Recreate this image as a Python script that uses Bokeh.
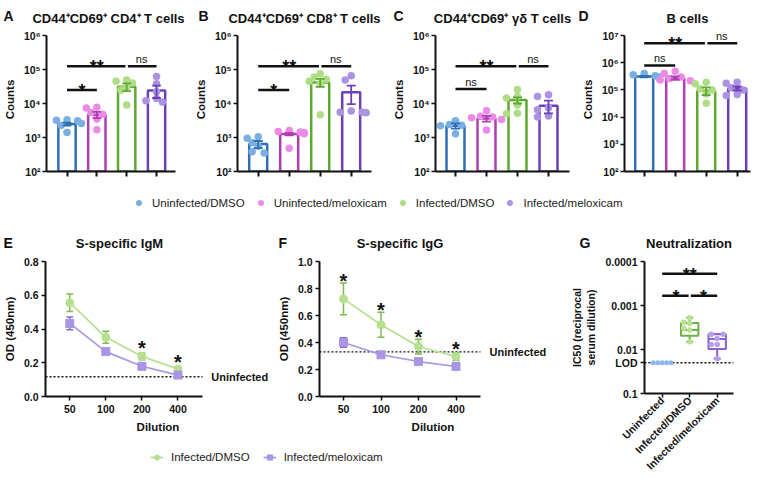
import math
from bokeh.plotting import figure
from bokeh.models import Range1d, FixedTicker, Legend, LegendItem, NumeralTickFormatter
from bokeh.layouts import row, column
from bokeh.embed import file_html
from bokeh.resources import INLINE
from bokeh.core.properties import value

FONT = "Liberation Sans"
INK = "#111111"

# ---------------- data ----------------
groups = ["Uninfected/DMSO", "Uninfected/meloxicam", "Infected/DMSO", "Infected/meloxicam"]

cd4_points = [[3300, 3200, 3100, 2600, 2300, 1400],
              [7700, 7400, 5400, 4800, 3500, 1700],
              [49000, 45000, 40000, 30000, 25000, 9000],
              [62000, 38000, 22000, 14000, 12000, 11000]]
cd4_mean = [2500, 4700, 31000, 24000]
cd4_sem = [250, 1000, 8000, 9500]

cd8_points = [[1050, 950, 700, 550, 380, 350],
              [1600, 1500, 1450, 1400, 1300, 480],
              [75000, 60000, 52000, 45000, 38000, 4700],
              [66000, 49000, 6000, 5500, 5500, 5300]]
cd8_mean = [640, 1260, 41700, 21600]
cd8_sem = [150, 100, 11000, 12000]

gd_points = [[3100, 2400, 2300, 2200, 1300],
             [6100, 4200, 4000, 3800, 3400, 1650],
             [26000, 16000, 14500, 9000, 5200, 5000],
             [18000, 16000, 7500, 6500, 4300, 4000]]
gd_mean = [2210, 3620, 12600, 8600]
gd_sem = [380, 700, 2600, 3500]

b_points = [[400000, 360000, 330000, 300000, 280000, 270000],
            [480000, 400000, 300000, 260000, 230000, 215000],
            [190000, 170000, 110000, 100000, 70000, 32000],
            [190000, 175000, 120000, 100000, 68000, 62000]]
b_mean = [309000, 276000, 93800, 115000]
b_sem = [20000, 40000, 30000, 20000]

sig_cd4 = ["**", "ns", "*"]
sig_cd8 = ["**", "ns", "*"]
sig_gd = ["**", "ns", "ns"]
sig_b = ["**", "ns", "ns"]

dilution = ["50", "100", "200", "400"]
igm_dmso = [0.556, 0.351, 0.238, 0.163]
igm_dmso_sem = [0.052, 0.035, 0.020, 0.006]
igm_melox = [0.433, 0.266, 0.179, 0.127]
igm_melox_sem = [0.038, 0.015, 0.008, 0.005]
igm_uninfected = 0.117
igm_star_at = ["200", "400"]
igm_star_y = [0.351, 0.272]

igg_dmso = [0.723, 0.531, 0.370, 0.296]
igg_dmso_sem = [0.117, 0.093, 0.055, 0.030]
igg_melox = [0.400, 0.309, 0.259, 0.222]
igg_melox_sem = [0.035, 0.010, 0.010, 0.010]
igg_uninfected = 0.331
igg_star_at = ["50", "100", "200", "400"]
igg_star_y = [0.94, 0.72, 0.52, 0.437]

g_groups = ["Uninfected", "Infected/DMSO", "Infected/meloxicam"]
lod = 0.02
g_uninf = [0.02, 0.02, 0.02, 0.02, 0.02]
g_dmso = [0.0019, 0.0024, 0.0026, 0.0033, 0.0036, 0.0067]
g_melox = [0.0045, 0.0045, 0.0056, 0.0077, 0.0077, 0.0163]
g_dmso_box = [0.0019, 0.0025, 0.0036, 0.0049, 0.0067]   # min, q1, median, q3, max
g_melox_box = [0.0045, 0.0045, 0.0058, 0.0097, 0.0163]
g_sig = ["**", "*", "*"]

titles_top = ["CD44\u207aCD69\u207a CD4\u207a T cells", "CD44\u207aCD69\u207a CD8\u207a T cells",
              "CD44\u207aCD69\u207a \u03b3\u03b4 T cells", "B cells"]
titles_bottom = ["S-specific IgM", "S-specific IgG", "Neutralization"]
letters_top = ["A", "B", "C", "D"]
letters_bottom = ["E", "F", "G"]

# ---------------- styles / layout ----------------
point_colors = ["#7aafe4", "#ec8be6", "#aedd86", "#ac93e2"]
bar_colors = ["#2f6fb5", "#b03db2", "#5ca92e", "#6b40b9"]
LG, LGE = "#b6e08f", "#7cba52"
LP, LPE = "#a995e4", "#8468d2"
G_BOX, P_BOX = "#6db045", "#8a60d6"
SUP = {2: "\u00b2", 3: "\u00b3", 4: "\u2074", 5: "\u2075", 6: "\u2076", 7: "\u2077"}

TOTAL_W = 758
TOP_W = [190, 193, 187, 188]
TOP_MBL = [41, 47, 52, 54]
TOP_FW = [134, 134, 134, 126]
TOP_FIRST = [21.3, 20.7, 20.0, 19.7]
TOP_LX = [3, 8, 10, 8]
BOT_W = [270, 276, 212]
BOT_MBL = [38, 49, 98]
BOT_FW = [162, 161, 89]
BOT_UNIT = [37.2, 37.5]
BOT_FIRST = [25.0, 24.0]
BOT_LX = [3, 8, 33]


def make_fig(width, height, mbl, mbr, mbt, mbb, xr, yr, ytype="linear"):
    p = figure(width=width, height=height, x_range=xr, y_range=yr, y_axis_type=ytype,
               output_backend="svg", toolbar_location=None, title=None,
               min_border_left=mbl, min_border_right=mbr,
               min_border_top=mbt, min_border_bottom=mbb)
    p.xgrid.visible = False
    p.ygrid.visible = False
    p.outline_line_color = None
    for ax in p.axis:
        ax.axis_line_width = 2
        ax.axis_line_color = INK
        ax.major_tick_line_width = 1.5
        ax.major_tick_line_color = INK
        ax.minor_tick_line_color = None
        ax.major_tick_in = 0
        ax.major_tick_out = 4
        ax.major_label_standoff = 3
        ax.major_label_text_font = FONT
        ax.major_label_text_font_style = "bold"
        ax.major_label_text_font_size = "10.5px"
        ax.major_label_text_color = INK
        ax.axis_label_text_font = FONT
        ax.axis_label_text_font_style = "bold"
        ax.axis_label_text_font_size = "11.5px"
        ax.axis_label_text_color = INK
        ax.axis_label_standoff = 5
    return p


def header_fig(height, letters, letter_x, letter_base, titles, title_x, title_base):
    p = figure(frame_width=TOTAL_W, frame_height=height, x_range=Range1d(0, TOTAL_W),
               y_range=Range1d(height, 0), output_backend="svg", toolbar_location=None,
               min_border_left=0, min_border_right=0, min_border_top=0, min_border_bottom=0,
               title=None, x_axis_location=None, y_axis_location=None)
    p.grid.visible = False
    p.outline_line_color = None
    p.text(x=letter_x, y=[letter_base] * len(letters), text=letters, text_font=value(FONT),
           text_font_size="14px", text_font_style="bold", text_color=INK,
           text_align="left", text_baseline="alphabetic")
    p.text(x=title_x, y=[title_base] * len(titles), text=titles, text_font=value(FONT),
           text_font_size="13px", text_font_style="bold", text_color=INK,
           text_align="center", text_baseline="alphabetic")
    return p


def swarm(vals, ypx, xunit, log=True, d=6.5):
    ys = [(math.log10(v) if log else v) * ypx for v in vals]
    order = sorted(range(len(vals)), key=lambda i: -ys[i])
    placed = []
    offs = [0.0] * len(vals)
    cands = [0, -6, 6, -11, 11, -15, 15]
    for i in order:
        pick = cands[-1]
        for c in cands:
            if all((c - px) ** 2 + (ys[i] - py) ** 2 >= d * d for px, py in placed):
                pick = c
                break
        placed.append((pick, ys[i]))
        offs[i] = pick / xunit
    return offs


def sig_text(p, x, y, t, star_size="18px"):
    if t == "ns":
        p.text(x=[x], y=[y], text=[t], text_font=value(FONT), text_font_size="11px",
               text_align="center", text_baseline="alphabetic", y_offset=-7, text_color=INK)
    else:
        p.text(x=[x], y=[y], text=[t], text_font=value(FONT), text_font_size=star_size,
               text_font_style="bold", text_align="center", text_baseline="alphabetic",
               y_offset=1, text_color=INK)


def error_bars(p, xs, vals, sems, color, cap, width=1.6):
    lo = [v - s for v, s in zip(vals, sems)]
    hi = [v + s for v, s in zip(vals, sems)]
    p.segment(x0=xs, y0=lo, x1=xs, y1=hi, line_color=color, line_width=width)
    p.segment(x0=[x - cap for x in xs], y0=hi, x1=[x + cap for x in xs], y1=hi, line_color=color, line_width=width)
    p.segment(x0=[x - cap for x in xs], y0=lo, x1=[x + cap for x in xs], y1=lo, line_color=color, line_width=width)


def bar_panel(k, pts, means, sems, top_exp, labels, sig_y):
    width, mbl, fw = TOP_W[k], TOP_MBL[k], TOP_FW[k]
    unit = 31.0
    x0 = 1 - TOP_FIRST[k] / unit
    H = 160
    fh = 136          # 10^2 .. 10^top
    ext = 8           # free space above the axis top
    mbt = 1
    decade_px = fh / (top_exp - 2)
    ytop = 10 ** (top_exp + ext / decade_px)
    p = make_fig(width, H, mbl, width - mbl - fw, mbt, H - mbt - fh - ext,
                 Range1d(x0, x0 + fw / unit), Range1d(1e2, ytop), "log")
    xs = [1, 2, 3, 4]
    p.vbar(x=xs, top=means, bottom=100, width=0.58, fill_color="white",
           line_color=bar_colors, line_width=2.5)
    for i, vals in enumerate(pts):
        offs = swarm(vals, decade_px, unit)
        p.scatter(x=[xs[i] + o for o in offs], y=vals, size=7.5,
                  fill_color=point_colors[i], line_color=None)
    for i in range(4):
        error_bars(p, [xs[i]], [means[i]], [sems[i]], bar_colors[i], 4.5 / unit, 1.8)
    U, L = sig_y
    p.segment(x0=[1, 3.04, 1], y0=[U, U, L], x1=[2.96, 4, 2], y1=[U, U, L], line_color=INK, line_width=2.5)
    sig_text(p, 2, U, labels[0])
    sig_text(p, 3.5, U, labels[1])
    sig_text(p, 1.5, L, labels[2])
    p.yaxis.bounds = (1e2, 10 ** top_exp)
    p.yaxis.ticker = FixedTicker(ticks=[10 ** e for e in range(2, top_exp + 1)])
    p.yaxis.major_label_overrides = {10 ** e: "10" + SUP[e] for e in range(2, top_exp + 1)}
    p.yaxis.axis_label = "Counts"
    p.yaxis.major_label_standoff = 2
    p.xaxis.ticker = FixedTicker(ticks=xs)
    p.xaxis.major_label_overrides = {x: "" for x in xs}
    p.xaxis.major_label_text_font_size = "0px"
    p.xaxis.major_label_standoff = 0
    p.xaxis.major_tick_out = 5
    p.xaxis.major_tick_line_width = 2
    return p


def line_panel(k, dmso, dmso_sem, melox, melox_sem, uninf, ymax, star_at, star_y):
    width, mbl, fw = BOT_W[k], BOT_MBL[k], BOT_FW[k]
    unit = BOT_UNIT[k]
    x0 = 1 - BOT_FIRST[k] / unit
    x_end = x0 + fw / unit                      # end of the drawn x axis
    full = (width - mbl) / unit                 # frame reaches the right edge
    H, mbt, fh = 192, 10, 135
    p = make_fig(width, H, mbl, 0, mbt, H - mbt - fh, Range1d(x0, x0 + full), Range1d(0, ymax))
    xs = [1, 2, 3, 4]
    p.segment(x0=[x0], y0=[uninf], x1=[x_end], y1=[uninf], line_color=INK, line_dash="2 2", line_width=1.3)
    for vals, sems, lc, ec, marker in [(dmso, dmso_sem, LG, LGE, "circle"), (melox, melox_sem, LP, LPE, "square")]:
        error_bars(p, xs, vals, sems, ec, 3.5 / unit, 1.5)
        p.line(xs, vals, line_color=lc, line_width=1.7)
        p.scatter(xs, vals, marker=marker, size=8, fill_color=lc, line_color=lc)
    sx = [xs[dilution.index(d)] for d in star_at]
    p.text(x=sx, y=star_y, text=["*"] * len(sx), text_font=value(FONT), text_font_size="20px",
           text_font_style="bold", text_align="center", text_baseline="alphabetic", y_offset=11,
           text_color=INK)
    p.text(x=[x_end + 9 / unit], y=[uninf], text=["Uninfected"], text_font=value(FONT),
           text_font_size="11px", text_font_style="bold", text_color=INK,
           text_align="left", text_baseline="middle")
    p.xaxis.bounds = (x0, x_end)
    p.yaxis.ticker = FixedTicker(ticks=[round(0.2 * j, 1) for j in range(int(round(ymax / 0.2)) + 1)])
    p.yaxis.formatter = NumeralTickFormatter(format="0.0")
    p.yaxis.axis_label = "OD (450nm)"
    p.xaxis.ticker = FixedTicker(ticks=xs)
    p.xaxis.major_label_overrides = {x: d for x, d in zip(xs, dilution)}
    p.xaxis.axis_label = "Dilution"
    p.xaxis.major_label_standoff = 4
    return p


def g_panel():
    width, mbl, fw = BOT_W[2], BOT_MBL[2], BOT_FW[2]
    unit = 27.5
    x0 = 1 - 17.7 / unit
    H, mbt, fh = 227, 10, 135
    p = make_fig(width, H, mbl, width - mbl - fw, mbt, H - mbt - fh,
                 Range1d(x0, x0 + fw / unit), Range1d(0.1, 0.0001), "log")
    decade_px = fh / 3.0
    p.segment(x0=[x0], y0=[lod], x1=[x0 + fw / unit], y1=[lod], line_color=INK, line_dash="2 2", line_width=1.3)
    bw = 8.7 / unit
    cap = 3.5 / unit
    for xi, box, col in [(2, g_dmso_box, G_BOX), (3, g_melox_box, P_BOX)]:
        mn, q1, med, q3, mx = box
        p.segment(x0=[xi, xi], y0=[mn, q3], x1=[xi, xi], y1=[q1, mx], line_color=col, line_width=2)
        p.segment(x0=[xi - cap, xi - cap], y0=[mn, mx], x1=[xi + cap, xi + cap], y1=[mn, mx],
                  line_color=col, line_width=2)
        p.quad(left=[xi - bw], right=[xi + bw], bottom=[q1], top=[q3], fill_color="white",
               line_color=col, line_width=2)
        p.segment(x0=[xi - bw], y0=[med], x1=[xi + bw], y1=[med], line_color=col, line_width=2)
    uninf_jitter = [-0.32, -0.16, 0.0, 0.16, 0.32]
    p.scatter(x=[1 + j for j in uninf_jitter], y=g_uninf, size=5, fill_color="#8db7ea", line_color=None)
    for xi, vals, col in [(2, g_dmso, "#b9e193"), (3, g_melox, "#b69ee8")]:
        offs = swarm(vals, decade_px, unit, d=5.5)
        p.scatter(x=[xi + o for o in offs], y=vals, size=5.5, fill_color=col, line_color=None)
    U, L = 0.00019, 0.0006
    p.segment(x0=[1, 1, 2.04], y0=[U, L, L], x1=[3, 1.96, 3], y1=[U, L, L], line_color=INK, line_width=2.5)
    sig_text(p, 2, U, g_sig[0])
    sig_text(p, 1.5, L, g_sig[1])
    sig_text(p, 2.5, L, g_sig[2])
    ticks = [1e-4, 1e-3, 1e-2, lod, 0.1]
    p.yaxis.ticker = FixedTicker(ticks=ticks)
    p.yaxis.major_label_overrides = {1e-4: "0.0001", 1e-3: "0.001", 1e-2: "0.01", lod: "LOD", 0.1: "0.1"}
    p.yaxis.axis_label = "IC50 (reciprocal\nserum dilution)"
    p.yaxis.axis_label_text_font_size = "10.5px"
    p.xaxis.ticker = FixedTicker(ticks=[1, 2, 3])
    p.xaxis.major_label_overrides = {i + 1: g for i, g in enumerate(g_groups)}
    p.xaxis.major_label_orientation = math.pi / 4
    p.xaxis.major_label_text_font_size = "10.5px"
    p.xaxis.major_label_standoff = 1
    return p


def legend_fig(width, height, entries, loc, gw, gh, standoff, spacing, kind):
    p = figure(width=width, height=height, x_range=Range1d(0, 1), y_range=Range1d(0, 1),
               output_backend="svg", toolbar_location=None, min_border=0, title=None,
               x_axis_location=None, y_axis_location=None)
    p.grid.visible = False
    p.outline_line_color = None
    items = []
    for label, color, marker in entries:
        rs = []
        if kind == "line":
            rs.append(p.line(x=[-5, -4], y=[-5, -5], line_color=color, line_width=1.7))
        rs.append(p.scatter(x=[-5], y=[-5], marker=marker, size=5, fill_color=color, line_color=color))
        items.append(LegendItem(label=label, renderers=rs))
    leg = Legend(items=items, orientation="horizontal", location=loc, glyph_width=gw, glyph_height=gh,
                 label_standoff=standoff, spacing=spacing, padding=0, margin=0,
                 border_line_color=None, background_fill_alpha=0,
                 label_text_font=FONT, label_text_font_size="11.5px", label_text_color="#222222")
    p.add_layout(leg)
    return p


top_off = [sum(TOP_W[:i]) for i in range(4)]
bot_off = [sum(BOT_W[:i]) for i in range(3)]
head1 = header_fig(26, letters_top, [o + lx for o, lx in zip(top_off, TOP_LX)], 15,
                   titles_top, [o + m + f / 2 for o, m, f in zip(top_off, TOP_MBL, TOP_FW)], 18)
head2 = header_fig(39, letters_bottom, [o + lx for o, lx in zip(bot_off, BOT_LX)], 30,
                   titles_bottom, [o + m + f / 2 for o, m, f in zip(bot_off, BOT_MBL, BOT_FW)], 31)

A = bar_panel(0, cd4_points, cd4_mean, cd4_sem, 6, sig_cd4, (1.24e5, 2.5e4))
B = bar_panel(1, cd8_points, cd8_mean, cd8_sem, 6, sig_cd8, (1.24e5, 2.5e4))
C = bar_panel(2, gd_points, gd_mean, gd_sem, 6, sig_gd, (1.24e5, 2.68e4))
D = bar_panel(3, b_points, b_mean, b_sem, 7, sig_b, (5.2e6, 7.9e5))

leg1 = legend_fig(TOTAL_W, 26, [(g, c, "circle") for g, c in zip(groups, point_colors)],
                  (132, 3), 13, 13, 7, 9, "dot")

E = line_panel(0, igm_dmso, igm_dmso_sem, igm_melox, igm_melox_sem, igm_uninfected,
               0.8, igm_star_at, igm_star_y)
F = line_panel(1, igg_dmso, igg_dmso_sem, igg_melox, igg_melox_sem, igg_uninfected,
               1.0, igg_star_at, igg_star_y)
leg2 = legend_fig(BOT_W[0] + BOT_W[1], 22,
                  [("Infected/DMSO", LG, "circle"), ("Infected/meloxicam", LP, "square")],
                  (150, 1), 13, 14, 8, 13, "line")
G = g_panel()

layout = column(head1, row(A, B, C, D), leg1, head2, row(column(row(E, F), leg2), G))
open("out.html", "w").write(file_html(layout, INLINE))
